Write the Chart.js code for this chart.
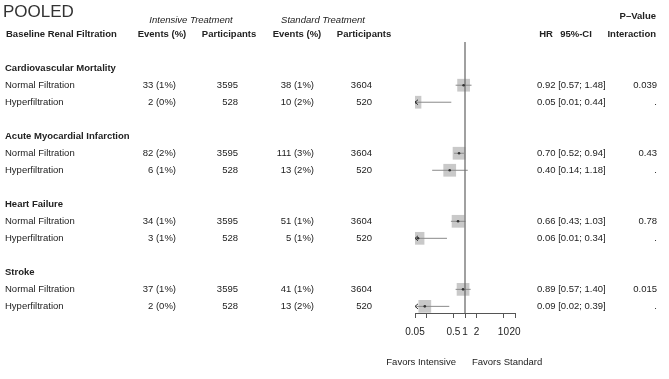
<!DOCTYPE html>
<html>
<head>
<meta charset="utf-8">
<script src="https://cdn.jsdelivr.net/npm/chart.js@4.4.0/dist/chart.umd.min.js"></script>
<style>
    html, body { margin: 0; padding: 0; background: #fff; }
    #forest { display: block; }
</style>
</head>
<body>
<canvas id="forest" width="669" height="379"></canvas>
<script>
// === Data ===
const outcomes = ['Cardiovascular Mortality', 'Acute Myocardial Infarction', 'Heart Failure', 'Stroke'];
const subgroups = ['Normal Filtration', 'Hyperfiltration'];
const intEvents = ['33 (1%)', '2 (0%)', '82 (2%)', '6 (1%)', '34 (1%)', '3 (1%)', '37 (1%)', '2 (0%)'];
const intParticipants = [3595, 528, 3595, 528, 3595, 528, 3595, 528];
const stdEvents = ['38 (1%)', '10 (2%)', '111 (3%)', '13 (2%)', '51 (1%)', '5 (1%)', '41 (1%)', '13 (2%)'];
const stdParticipants = [3604, 520, 3604, 520, 3604, 520, 3604, 520];
const hr = [0.92, 0.05, 0.70, 0.40, 0.66, 0.06, 0.89, 0.09];
const ciLow = [0.57, 0.01, 0.52, 0.14, 0.43, 0.01, 0.57, 0.02];
const ciHigh = [1.48, 0.44, 0.94, 1.18, 1.03, 0.34, 1.40, 0.39];
const pInteraction = ['0.039', '0.43', '0.78', '0.015'];
const tickValues = [0.05, 0.1, 0.5, 1, 2, 10, 20];
const tickLabels = ['0.05', '', '0.5', '1', '2', '10', '20'];

const FONT = "'Liberation Sans', Arial, Helvetica, sans-serif";
const TEXT = '#222';

// each outcome takes 4 rows: title, normal, hyper, blank
const rowOf = i => Math.floor(i / 2) * 4 + 1 + (i % 2);
const Y_MIN = -1.54, Y_MAX = 14.39;

// === Datasets ===
const centerDots = hr.map((v, i) => ({ x: v, y: rowOf(i) }));
const ciDatasets = hr.map((v, i) => ({
    type: 'line',
    data: [{ x: ciLow[i], y: rowOf(i) }, { x: ciHigh[i], y: rowOf(i) }],
    borderColor: '#8a8a8a',
    borderWidth: 1,
    pointRadius: 0,
    order: 2
}));

// === Text columns plugin ===
const tablePlugin = {
    id: 'table',
    afterDatasetsDraw(chart) {
        const { ctx, scales: { x, y } } = chart;
        ctx.save();
        // arrows for CIs cut at the left edge
        ctx.strokeStyle = '#333';
        ctx.lineWidth = 1;
        hr.forEach((v, i) => {
            if (ciLow[i] < x.min) {
                const py = y.getPixelForValue(rowOf(i));
                const px = x.left;
                ctx.beginPath();
                ctx.moveTo(px + 3, py - 2.5);
                ctx.lineTo(px, py);
                ctx.lineTo(px + 3, py + 2.5);
                ctx.stroke();
            }
        });
        ctx.restore();
    },
    afterDraw(chart) {
        const { ctx, scales: { x, y } } = chart;
        ctx.save();
        ctx.textBaseline = 'middle';
        ctx.fillStyle = TEXT;

        ctx.font = `17px ${FONT}`;
        ctx.textAlign = 'left';
        ctx.fillStyle = '#333';
        ctx.fillText('POOLED', 3, 12);
        ctx.fillStyle = TEXT;

        ctx.font = `italic 9.5px ${FONT}`;
        ctx.textAlign = 'center';
        ctx.fillText('Intensive Treatment', 191, 20);
        ctx.fillText('Standard Treatment', 323, 20);

        ctx.font = `bold 9.5px ${FONT}`;
        ctx.textAlign = 'left';
        ctx.fillText('Baseline Renal Filtration', 6, 34);
        ctx.textAlign = 'center';
        ctx.fillText('Events (%)', 162, 34);
        ctx.fillText('Participants', 229, 34);
        ctx.fillText('Events (%)', 297, 34);
        ctx.fillText('Participants', 364, 34);
        ctx.fillText('HR', 546, 34);
        ctx.fillText('95%-CI', 576, 34);
        ctx.textAlign = 'right';
        ctx.fillText('Interaction', 656, 34);
        ctx.fillText('P\u2013Value', 656, 16);

        outcomes.forEach((name, s) => {
            const py = y.getPixelForValue(s * 4);
            ctx.font = `bold 9.5px ${FONT}`;
            ctx.textAlign = 'left';
            ctx.fillText(name, 5, py);
        });

        ctx.font = `9.5px ${FONT}`;
        hr.forEach((v, i) => {
            const py = y.getPixelForValue(rowOf(i));
            ctx.textAlign = 'left';
            ctx.fillText(subgroups[i % 2], 5, py);
            ctx.textAlign = 'right';
            ctx.fillText(intEvents[i], 176, py);
            ctx.fillText(String(intParticipants[i]), 238, py);
            ctx.fillText(stdEvents[i], 314, py);
            ctx.fillText(String(stdParticipants[i]), 372, py);
            ctx.textAlign = 'left';
            ctx.fillText(`${v.toFixed(2)} [${ciLow[i].toFixed(2)}; ${ciHigh[i].toFixed(2)}]`, 537, py);
            ctx.textAlign = 'right';
            ctx.fillText(i % 2 === 0 ? pInteraction[i / 2] : '.', 657, py);
        });

        const one = x.getPixelForValue(1);
        ctx.font = `9.5px ${FONT}`;
        ctx.textAlign = 'right';
        ctx.fillText('Favors Intensive', one - 9, 362);
        ctx.textAlign = 'left';
        ctx.fillText('Favors Standard', one + 7, 362);
        ctx.restore();
    }
};

// === Chart ===
const ctx = document.getElementById('forest').getContext('2d');
new Chart(ctx, {
    type: 'scatter',
    data: {
        datasets: [
            {
                data: centerDots,
                pointStyle: 'circle',
                pointRadius: 1.3,
                backgroundColor: '#333',
                borderWidth: 0,
                order: 0
            },
            {
                type: 'line',
                data: [{ x: 1, y: Y_MIN }, { x: 1, y: Y_MAX }],
                borderColor: '#6e6e6e',
                borderWidth: 1.3,
                pointRadius: 0,
                order: 1
            },
            ...ciDatasets,
            {
                data: centerDots,
                pointStyle: 'rect',
                pointRadius: 9,
                backgroundColor: '#c9c9c9',
                borderWidth: 0,
                order: 3
            }
        ]
    },
    options: {
        responsive: false,
        animation: false,
        events: [],
        layout: { padding: { left: 415, right: 154, top: 42, bottom: 33 } },
        plugins: { legend: { display: false }, tooltip: { enabled: false } },
        scales: {
            x: {
                type: 'logarithmic',
                min: 0.05,
                max: 20,
                afterBuildTicks: axis => {
                    axis.ticks = tickValues.map(v => ({ value: v }));
                },
                ticks: {
                    autoSkip: false,
                    maxRotation: 0,
                    padding: 8,
                    color: TEXT,
                    font: { family: FONT, size: 10 },
                    callback: (val, i) => tickLabels[i]
                },
                grid: { drawOnChartArea: false, drawTicks: true, tickLength: 5, color: '#555' },
                border: { display: true, color: '#555', width: 1 }
            },
            y: {
                type: 'linear',
                reverse: true,
                min: Y_MIN,
                max: Y_MAX,
                display: false
            }
        }
    },
    plugins: [tablePlugin]
});
</script>
</body>
</html>
